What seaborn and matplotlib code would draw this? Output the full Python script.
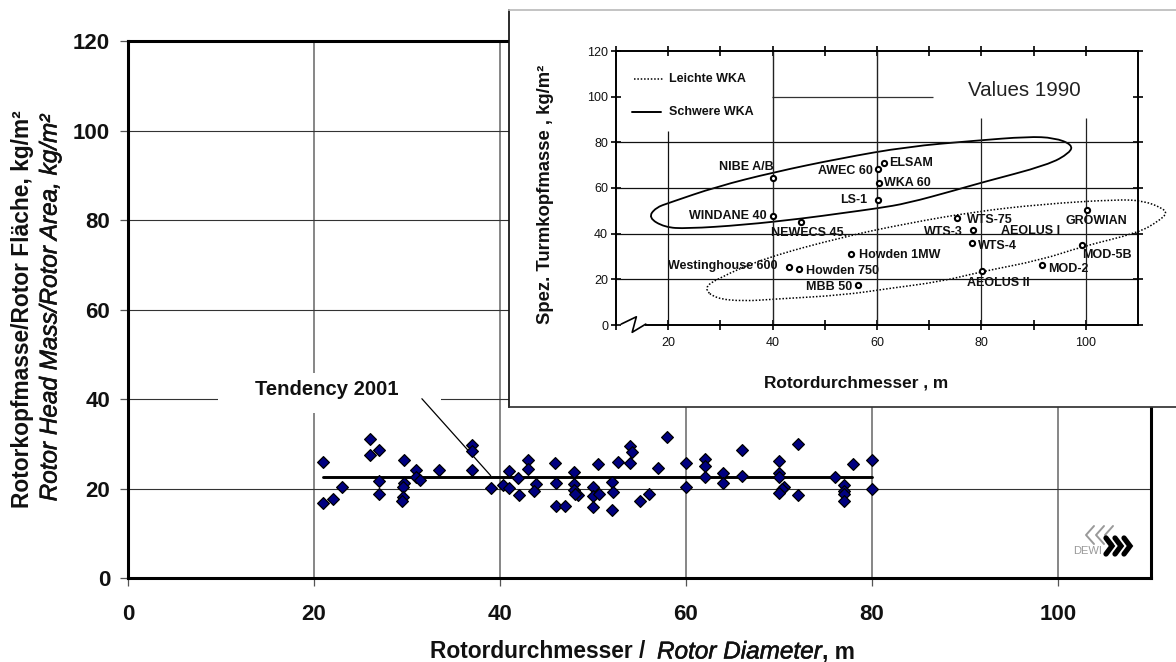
import numpy as np
import pandas as pd
import seaborn as sns
import matplotlib.pyplot as plt
import matplotlib.patheffects as pe
from matplotlib.patches import Rectangle, PathPatch
from matplotlib.path import Path

# Hauptdiagramm: Rotorkopfmasse je Rotorfläche
diameter = [21, 21, 22, 23, 26, 26, 27, 27, 27, 29.7, 29.7, 29.6, 29.6, 29.5, 31, 31, 31.4, 33.4,
            37, 37, 37, 39, 40.3, 41, 41, 41.9, 42, 43, 43, 43.9, 43.7, 45.9, 46, 46, 47,
            48, 48, 48, 48.4, 48.1, 50, 50, 50, 50.5, 50.6, 52, 52.2, 52, 52.7, 54, 54.2, 54,
            55, 56, 57, 58, 60, 60, 62, 62, 62, 64, 64, 66, 66, 70, 70, 70, 70.5, 70.3, 70,
            72, 72, 76, 77, 77, 77, 77, 78, 80, 80]
head_mass = [26, 16.7, 17.6, 20.4, 31.1, 27.5, 28.7, 21.7, 18.9, 26.3, 21.2, 20.4, 18.2, 17.2, 24.2, 22.7, 21.9, 24.2,
             29.8, 28.4, 24.2, 20.1, 20.8, 23.9, 20.1, 22.4, 18.6, 26.3, 24.3, 21.1, 19.5, 25.7, 21.3, 16.1, 16,
             23.7, 21, 19.7, 18.5, 18.9, 20.3, 18.4, 15.9, 25.5, 18.8, 21.4, 19.2, 15.1, 26, 29.5, 28.1, 25.8,
             17.3, 18.7, 24.6, 31.5, 25.8, 20.3, 26.6, 25.1, 22.5, 23.4, 21.3, 28.6, 22.8, 26.2, 23.4, 22.7, 20.3, 20, 19,
             30, 18.5, 22.7, 20.7, 19.5, 18.7, 17.2, 25.6, 26.5, 19.8]
trend_x = [21, 80]
trend_y = [22.6, 22.6]
main_xticks = [0, 20, 40, 60, 80, 100]
main_yticks = [0, 20, 40, 60, 80, 100, 120]

# Eingesetztes Bild: Werte 1990
diam_1990 = [40.1, 40.1, 45.4, 43.1, 45.1, 56.4, 55.1, 60.1, 61.3, 60.3, 60.1, 75.3, 78.3, 78.2, 80.1, 91.7, 99.2, 100.3]
mass_1990 = [64.3, 47.9, 45.2, 25.5, 24.4, 17.5, 31, 68.2, 71.1, 62.2, 54.8, 46.7, 41.5, 35.8, 23.7, 26.3, 35, 50.4]

heavy_x = [16.2, 17.6, 20.3, 29.3, 40.2, 53, 65.8, 78.7, 88.9, 94, 97.4, 97, 92.8, 79.9, 75.1, 65.8, 60.1, 53, 46, 34.4, 23.5, 19.3]
heavy_y = [47, 51.4, 53.6, 60.6, 66.9, 73, 78.1, 80.7, 82.5, 82, 79, 75.5, 70.1, 62.3, 59.1, 53.3, 51.1, 48.9, 46.7, 43.8, 42.2, 42.8]
light_x = [26.8, 29.6, 38.3, 53.7, 65.8, 78.7, 91.5, 106.2, 111, 114.5, 115.6, 114, 110.1, 99.2, 91.5, 79.9, 72.2, 62.6, 53.6, 40.8, 34.4, 29]
light_y = [16.2, 20.5, 29.2, 38.7, 44.5, 49.6, 52.9, 55, 54.4, 51.4, 49, 45.6, 40.4, 34.3, 28.5, 23.3, 19, 16.1, 13.1, 11.4, 10.4, 11.6]

W, H = 1176, 662
sns.set_theme(style='white')
plt.rcParams['font.family'] = ['Liberation Sans', 'DejaVu Sans']


def box(left, top, right, bottom):
    return [left / W, 1 - bottom / H, (right - left) / W, (bottom - top) / H]


def px_text(x, y, s, **kw):
    return fig.text(x / W, 1 - y / H, s, **kw)


def loop_patch(xs, ys, **kw):
    pts = np.column_stack([xs, ys])
    mids = (pts + np.roll(pts, -1, axis=0)) / 2
    verts = [mids[-1]]
    codes = [Path.MOVETO]
    for p, m in zip(pts, mids):
        verts += [p, m]
        codes += [Path.CURVE3, Path.CURVE3]
    return PathPatch(Path(verts, codes), facecolor='none', edgecolor='black', clip_on=False, **kw)


fig = plt.figure(figsize=(W / 100, H / 100), dpi=100)
ax = fig.add_axes(box(128, 41.5, 1151, 578))

df = pd.DataFrame({'d': diameter, 'm': head_mass})
sns.scatterplot(data=df, x='d', y='m', ax=ax, marker='D', s=36, color='#000080',
                edgecolor='black', linewidth=0.9, zorder=4, clip_on=False)
sns.lineplot(x=trend_x, y=trend_y, ax=ax, color='black', linewidth=2.1, zorder=3)

ax.set_xlim(0, 110)
ax.set_ylim(0, 120)
ax.set_xticks(main_xticks)
ax.set_yticks(main_yticks)
ax.set_xlabel('')
ax.set_ylabel('')
ax.grid(True, axis='x', color='#666666', linewidth=1.1)
ax.grid(True, axis='y', color='#333333', linewidth=0.8)
ax.set_axisbelow(True)
ax.tick_params(axis='x', length=5.8, width=0.9, color='#555555', bottom=True, pad=13)
ax.tick_params(axis='y', length=5.8, width=0.9, color='#555555', left=True, pad=7)
for label in ax.get_xticklabels() + ax.get_yticklabels():
    label.set_fontsize(16)
    label.set_fontweight('bold')
    label.set_color('#111111')
for side in ax.spines:
    ax.spines[side].set_visible(True)
    ax.spines[side].set_color('black')
    ax.spines[side].set_linewidth(2.2)

# Beschriftung Tendenz mit weisser Fläche über dem Gitter
ax.add_patch(Rectangle((9.7, 36.9), 24, 9, facecolor='white', edgecolor='none', zorder=2))
ax.plot([31.6, 39], [40.1, 22.9], color='black', linewidth=0.9, zorder=3)
ax.text(21.4, 42.1, 'Tendency 2001', fontsize=14.6, fontweight='bold', ha='center', va='center',
        color='#111111', zorder=5)

# Achsentitel
heavy_italic = [pe.withStroke(linewidth=0.4, foreground='#111111')]
px_text(23, 110, 'Rotorkopfmasse/Rotor Fläche, kg/m²', rotation=90, fontsize=16.4, fontweight='bold',
        ha='center', va='top', color='#111111')
px_text(50, 115, 'Rotor Head Mass/Rotor Area, kg/m²', rotation=90, fontsize=17.5, fontstyle='italic',
        ha='center', va='top', color='#111111', path_effects=heavy_italic)
px_text(430, 652, 'Rotordurchmesser /', fontsize=16.4, fontweight='bold', va='center', color='#111111')
px_text(657, 652, 'Rotor Diameter', fontsize=17.5, fontstyle='italic', va='center', color='#111111',
        path_effects=heavy_italic)
px_text(822, 652, ', m', fontsize=16.4, fontweight='bold', va='center', color='#111111')

# Logo unten rechts
logo = fig.add_axes(box(1070, 520, 1140, 570), zorder=2)
logo.set_xlim(1070, 1140)
logo.set_ylim(570, 520)
logo.axis('off')
for cx in [1086, 1096, 1105]:
    logo.plot([cx + 8, cx, cx + 8], [526, 535, 544], color='#999999', linewidth=1.4)
for cx in [1106, 1115, 1124]:
    logo.plot([cx, cx + 6, cx], [538, 546, 554], color='black', linewidth=3.8, solid_joinstyle='miter')
logo.text(1073, 551, 'DEWI', fontsize=8, color='#999999', va='center')

# Eingesetztes Bild
panel = fig.add_axes(box(509, 9.5, 1176, 407), zorder=3)
panel.set_xticks([])
panel.set_yticks([])
panel.set_facecolor('white')
for side in panel.spines:
    panel.spines[side].set_visible(True)
panel.spines['right'].set_visible(False)
panel.spines['left'].set_color('#111111')
panel.spines['bottom'].set_color('#333333')
panel.spines['top'].set_color('#bbbbbb')

inset = fig.add_axes(box(616, 51, 1138, 325), zorder=4)
inset.patch.set_alpha(0)
inset.set_xlim(10, 110)
inset.set_ylim(0, 120)
inset.set_xticks([20, 40, 60, 80, 100])
inset.set_xticks([10, 30, 50, 70, 90], minor=True)
inset.set_yticks([0, 20, 40, 60, 80, 100, 120])
inset.tick_params(axis='both', which='both', length=7.5, width=1.2, color='black', direction='inout',
                  labelsize=9, pad=5, left=True, bottom=True, top=True, labelcolor='#111111')
inset.tick_params(axis='y', right=True, pad=2)
for side in inset.spines:
    inset.spines[side].set_visible(True)
    inset.spines[side].set_color('black')
    inset.spines[side].set_linewidth(1.4)
inset.spines['bottom'].set_bounds(15.7, 110)

# Gitter im Einsatz, teilweise für die Legende ausgespart
inset.hlines([20, 40, 60, 80], 10, 110, color='#111111', linewidth=0.9)
inset.hlines(100, 39.8, 70.8, color='#333333', linewidth=0.9)
inset.vlines(20, 0, 85, color='#111111', linewidth=0.9)
inset.vlines([40, 60], 0, 120, color='#222222', linewidth=1.0)
inset.vlines([80, 100], 0, 90.7, color='#222222', linewidth=0.9)

# Achsbruch unten links
inset.plot([11, 13.9, 13.1, 15.7], [0.4, 3.6, -3.2, 0.4], color='black', linewidth=1.2, clip_on=False)

inset.add_patch(loop_patch(heavy_x, heavy_y, linewidth=1.3))
inset.add_patch(loop_patch(light_x, light_y, linewidth=1.1, linestyle=(0, (1, 1.2))))
sns.scatterplot(x=diam_1990, y=mass_1990, ax=inset, marker='o', s=14, facecolor='white', edgecolor='black',
                linewidth=1.5, zorder=5, clip_on=False)
inset.set_xlabel('')
inset.set_ylabel('')

# Legende im Einsatz
fig.add_artist(plt.Line2D([634 / W, 663 / W], [1 - 79 / H, 1 - 79 / H], color='black', linewidth=1.1,
                          linestyle=(0, (1, 1.2)), zorder=6))
fig.add_artist(plt.Line2D([632 / W, 661 / W], [1 - 112 / H, 1 - 112 / H], color='black', linewidth=1.4, zorder=6))

label_px = {'NIBE A/B': (718.7, 166.7), 'WINDANE 40': (689, 216), 'NEWECS 45.': (771, 233.5),
            'Westinghouse 600': (668.3, 266), 'Howden 750': (805.7, 271), 'MBB 50': (806, 287),
            'Howden 1MW': (859, 255), 'AWEC 60': (818, 171), 'ELSAM': (889.3, 162.7), 'WKA 60': (884.3, 183.5),
            'LS-1': (840, 200), 'WTS-75': (966.7, 220), 'WTS-3': (924, 232.3), 'AEOLUS I': (1000.7, 231),
            'WTS-4': (978.3, 246.3), 'AEOLUS II': (967.3, 283), 'MOD-2': (1048.3, 269), 'MOD-5B': (1081.7, 254.7),
            'GROWIAN': (1065, 220.7), 'Leichte WKA': (669, 79.5), 'Schwere WKA': (669, 112)}
for name, (x, y) in label_px.items():
    px_text(x, y, name, fontsize=9, fontweight='bold', va='center', color='#111111', zorder=7)

px_text(968, 91, 'Values 1990', fontsize=14.8, va='center', color='#222222', zorder=7)
px_text(546, 194, 'Spez. Turmkopfmasse , kg/m²', rotation=90, fontsize=13.3, fontweight='bold',
        ha='center', va='center', color='#111111', zorder=7)
px_text(764, 383, 'Rotordurchmesser , m', fontsize=12.4, fontweight='bold', va='center', color='#111111', zorder=7)

fig.savefig('out.png', dpi=100)
plt.close(fig)
